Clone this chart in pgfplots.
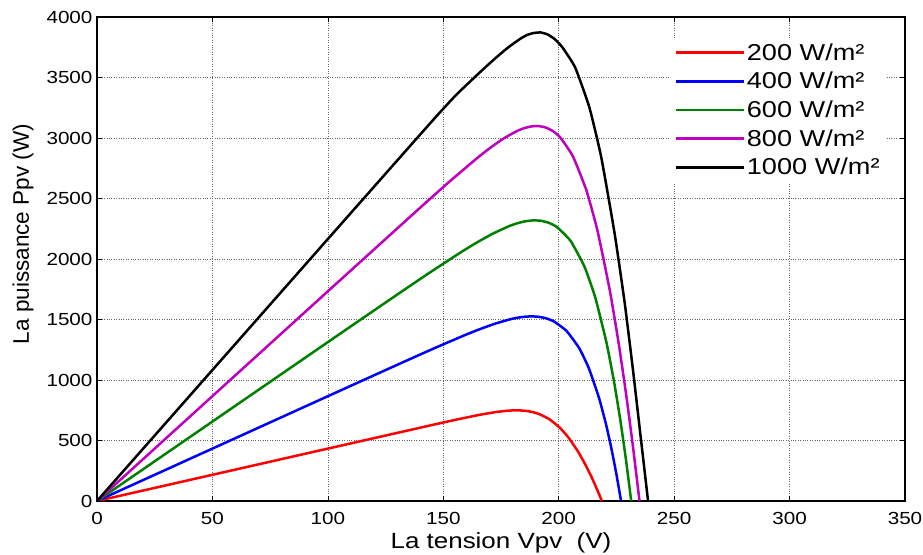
\documentclass[border=0pt]{standalone}
\usepackage{fontspec}
\setmainfont{Liberation Sans}[FakeStretch=1.18]
\newfontfamily\plainfont{Liberation Sans}
\usepackage{pgfplots}
\pgfplotsset{compat=1.18}
\definecolor{mgreen}{rgb}{0,0.5,0}
\definecolor{mmag}{rgb}{0.75,0,0.75}
\pgfplotsset{pv/.style={line width=2.5pt, line join=round, smooth, tension=0.3}}
\begin{document}
\begin{tikzpicture}
\begin{axis}[
  scale only axis, width=808pt, height=484pt,
  xmin=0, xmax=350, ymin=0, ymax=4000,
  xtick={0,50,...,350}, ytick={0,500,...,4000},
  grid=major,
  major grid style={dotted, black!60, line width=0.7pt},
  tick align=inside, major tick length=5pt,
  axis line style={line width=1.1pt},
  tick style={black, line width=0.6pt},
  /pgf/number format/assume math mode=true,
  /pgf/number format/1000 sep={},
  ticklabel style={font=\fontsize{17.5}{20}\selectfont},
  xticklabel style={yshift=-8pt},
  yticklabel style={xshift=-1pt},
  xlabel={La tension Vpv\ \ (V)},
  ylabel={La puissance Ppv (W)},
  xlabel style={font=\fontsize{22}{25}\selectfont, yshift=-1pt},
  ylabel style={font=\plainfont\fontsize{22.5}{25}\selectfont, yshift=6pt, xshift=25pt},
  legend style={at={(0.975,0.958)}, anchor=north east, draw=none, fill=white,
    font=\fontsize{23}{26}\selectfont, inner xsep=3pt, inner ysep=4pt,
    row sep=6.5pt},
  legend cell align=left,
  legend image code/.code={\draw[#1] (0pt,0pt) -- (68pt,0pt);},
]
\addplot[red, pv] coordinates {
(0,0) (100,433) (147.03,636.1) (155.66,672.3) (164.33,706.8) (168.69,722.3)
(173.08,735.8) (177.53,745.5) (179.78,748.3) (182.06,749.0) (184.38,747.3)
(186.74,742.2) (189.16,732.7) (191.65,717.5) (195.85,676.8) (200.43,606.5)
(204.21,524.8) (208.41,407.2) (211.51,302.0) (214.04,205.0) (216.38,106.0)
(218.7,0)};
\addlegendentry{200 W/m²}
\addplot[blue, pv] coordinates {
(0,0) (100,866) (134.20,1161.1) (146.86,1268.7) (159.53,1372.3) (165.87,1420.5)
(172.23,1464.1) (178.60,1499.9) (181.80,1513.3) (185.01,1522.5) (188.23,1525.8)
(191.47,1522.0) (194.73,1508.6) (198.02,1482.8) (203.37,1405.7) (208.85,1263.9)
(213.09,1095.1) (217.49,849.7) (220.54,629.6) (222.90,427.0) (225.0,220.3)
(227,0)};
\addlegendentry{400 W/m²}
\addplot[mgreen, pv] coordinates {
(0,0) (100,1313) (130.26,1708.8) (143.93,1885.1) (157.61,2055.5) (164.46,2135.4)
(171.33,2208.3) (178.23,2269.4) (181.69,2293.1) (185.17,2310.2) (188.66,2318.8)
(192.18,2316.2) (195.72,2298.9) (199.30,2262.7) (205.13,2149.6) (211.15,1937.3)
(215.83,1681.7) (220.71,1307.5) (224.11,970.2) (226.76,658.5) (229.14,340.3)
(231.4,0)};
\addlegendentry{600 W/m²}
\addplot[mmag, pv] coordinates {
(0,0) (100,1733) (141.19,2444.6) (152.74,2640.4) (164.33,2828.6) (170.15,2916.0)
(176.01,2994.5) (181.93,3057.7) (184.93,3080.5) (187.95,3095.0) (191.02,3098.7)
(194.14,3088.2) (197.33,3059.2) (200.60,3006.0) (206.09,2850.4) (212.00,2567.4)
(216.84,2230.0) (222.17,1737.1) (226.07,1291.5) (229.22,878.6) (232.13,455.0)
(235,0)};
\addlegendentry{800 W/m²}
\addplot[black, pv] coordinates {
(0,0) (100,2165) (145.01,3136.6) (155.89,3362) (166.82,3560) (172.32,3655)
(177.87,3745) (183.51,3822) (186.37,3852) (189.28,3868) (192.24,3872)
(195.28,3855) (198.41,3815) (201.65,3748) (207.17,3581) (213.27,3253)
(218.40,2843) (224.18,2215) (228.51,1647) (232.06,1100) (235.39,548)
(238.7,0)};
\addlegendentry{1000 W/m²}
\end{axis}
\pgfresetboundingbox
\path[use as bounding box] ([shift={(-97pt,-54pt)}]current axis.south west)
  rectangle ([shift={(18pt,17pt)}]current axis.north east);
\end{tikzpicture}
\end{document}
